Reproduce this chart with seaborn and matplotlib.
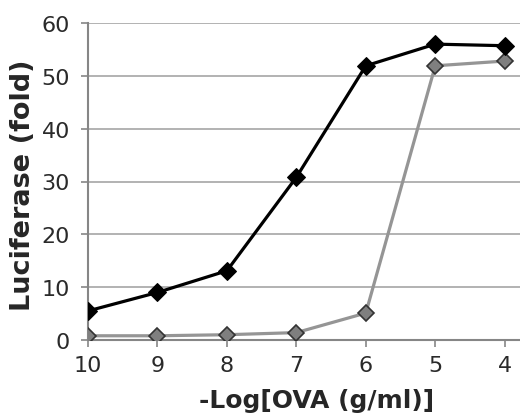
import matplotlib
matplotlib.use("Agg")
import matplotlib.pyplot as plt
import pandas as pd
import seaborn as sns

# -Log[OVA] doses, left to right as on the axis
doses = ["10", "9", "8", "7", "6", "5", "4"]
black_vals = [5.5, 9.0, 13.1, 30.8, 51.9, 56.0, 55.7]
gray_vals = [0.8, 0.8, 1.0, 1.4, 5.1, 51.9, 52.8]
y_ticks = [0, 10, 20, 30, 40, 50, 60]

sns.set_theme(style="white")
plt.rcParams["font.family"] = ["DejaVu Sans"]

df_black = pd.DataFrame({"dose": doses, "fold": black_vals})
df_gray = pd.DataFrame({"dose": doses, "fold": gray_vals})

fig = plt.figure(figsize=(5.2, 4.14), dpi=100)
ax = fig.add_axes([88 / 520, 1 - 341 / 414, (520 - 88) / 520, (341 - 24) / 414])

sns.lineplot(data=df_gray, x="dose", y="fold", sort=False, ax=ax,
             color="#959595", lw=2.3, marker="D", markersize=8,
             markerfacecolor="#7f7f7f", markeredgecolor="#333333", markeredgewidth=1.2,
             zorder=3)
sns.lineplot(data=df_black, x="dose", y="fold", sort=False, ax=ax,
             color="black", lw=2.3, marker="D", markersize=9,
             markerfacecolor="black", markeredgecolor="black", zorder=4)

ax.set_xlim(0, 6.22)
ax.set_ylim(0, 60)
ax.set_yticks(y_ticks)
ax.yaxis.grid(True, color="#a6a6a6", lw=1.2)
ax.set_axisbelow(True)

for side in ["top", "right"]:
    ax.spines[side].set_visible(False)
for side in ["left", "bottom"]:
    ax.spines[side].set_color("#868686")
    ax.spines[side].set_linewidth(1.5)

ax.tick_params(axis="both", which="major", direction="out", length=5, width=1.2,
               color="#868686", labelsize=16, labelcolor="#2a2a2a",
               bottom=True, left=True)
ax.tick_params(axis="y", pad=8)
ax.tick_params(axis="x", pad=6)

ax.set_xlabel("-Log[OVA (g/ml)]", fontsize=18, fontweight="bold")
ax.set_ylabel("Luciferase (fold)", fontsize=19.5, fontweight="bold")
ax.xaxis.set_label_coords(0.53, -0.15)
ax.yaxis.set_label_coords(-0.12, 0.49)

fig.savefig("out.png", dpi=100)
